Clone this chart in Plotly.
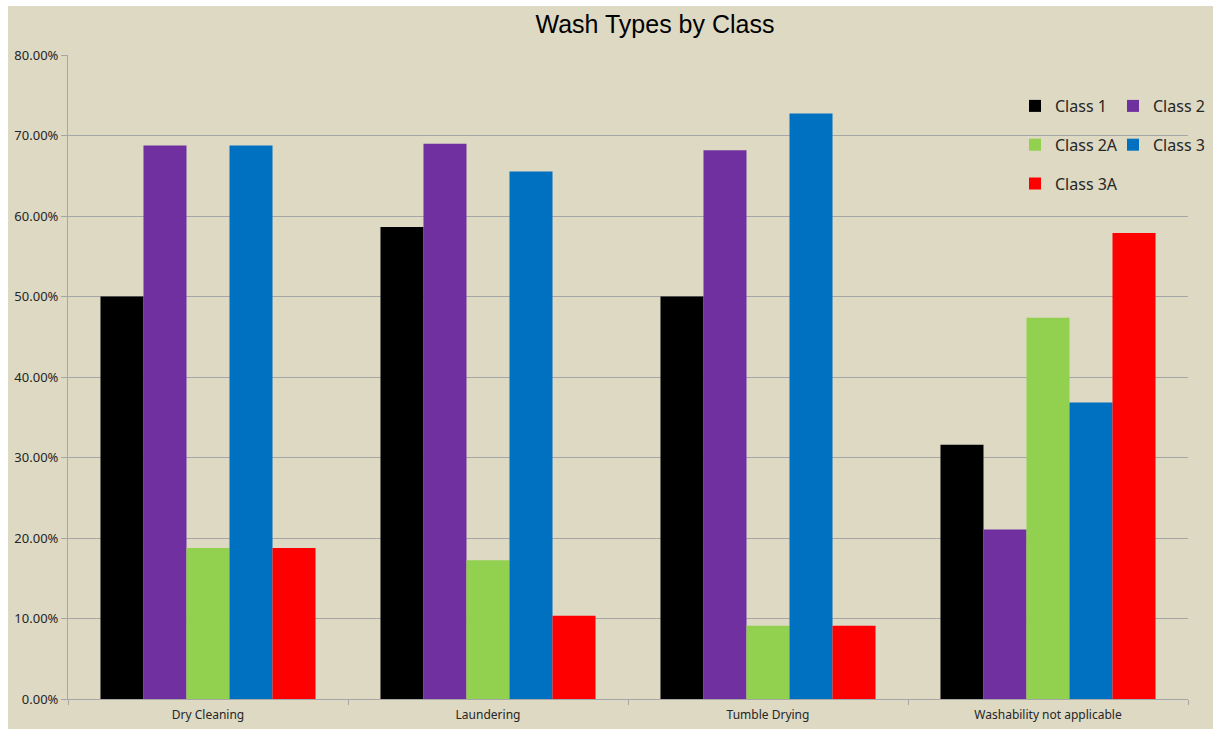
import plotly.graph_objects as go

# Share of items in each wash category, per class
categories = ["Dry Cleaning", "Laundering", "Tumble Drying", "Washability not applicable"]
class_1 = [0.5000, 0.5862, 0.5000, 0.3158]
class_2 = [0.6875, 0.6897, 0.6818, 0.2105]
class_2a = [0.1875, 0.1724, 0.0909, 0.4737]
class_3 = [0.6875, 0.6552, 0.7273, 0.3684]
class_3a = [0.1875, 0.1034, 0.0909, 0.5789]

series = [
    ("Class 1", class_1, "#000000", "legend"),
    ("Class 2", class_2, "#7030A0", "legend2"),
    ("Class 2A", class_2a, "#92D050", "legend"),
    ("Class 3", class_3, "#0070C0", "legend2"),
    ("Class 3A", class_3a, "#FF0000", "legend"),
]

W, H = 1215, 729
ML, MR, MT, MB = 68, 27, 55, 30
PW, PH = W - ML - MR, H - MT - MB

TAN = "#DDD9C3"
GRID = "#A6A6A6"
TEXT = "#262626"
BODY_FONT = "Noto Sans"

fig = go.Figure()
for name, vals, color, leg in series:
    fig.add_trace(go.Bar(
        name=name, x=categories, y=vals,
        marker=dict(color=color, line=dict(width=0)),
        legend=leg, legendgroup=name,
    ))

def px_x(px):
    return (px - ML) / PW

def px_y(py):
    return (H - MB - py) / PH

legend_common = dict(
    orientation="v", xanchor="left", yanchor="top",
    bgcolor="rgba(0,0,0,0)", borderwidth=0,
    font=dict(family=BODY_FONT, size=16, color=TEXT),
    tracegroupgap=15, itemclick=False,
)

fig.update_layout(
    width=W, height=H,
    margin=dict(l=ML, r=MR, t=MT, b=MB, pad=0, autoexpand=False),
    paper_bgcolor="white",
    plot_bgcolor="rgba(0,0,0,0)",
    barmode="group", bargap=0.232, bargroupgap=0,
    title=dict(
        text="Wash Types by Class",
        x=655 / W, xanchor="center", xref="container",
        y=1 - 24 / H, yanchor="middle", yref="container",
        font=dict(family="Liberation Sans", size=25, color="#000000"),
    ),
    legend=dict(x=px_x(1015), y=px_y(89), **legend_common),
    legend2=dict(x=px_x(1113), y=px_y(89), **legend_common),
    xaxis=dict(
        showgrid=False, showline=True, linecolor=GRID, linewidth=1,
        ticks="outside", tickson="boundaries", ticklen=5, tickcolor=GRID,
        tickfont=dict(family=BODY_FONT, size=12, color=TEXT),
        ticklabelstandoff=5,
    ),
    yaxis=dict(
        range=[0, 0.8], dtick=0.1, tickformat=".2%",
        showgrid=True, gridcolor=GRID, gridwidth=1,
        showline=True, linecolor=GRID, linewidth=1,
        ticks="outside", ticklen=6, tickcolor=GRID,
        tickfont=dict(family=BODY_FONT, size=13, color=TEXT),
        zeroline=False,
    ),
    shapes=[dict(
        type="rect", xref="paper", yref="paper", layer="below",
        x0=px_x(8), x1=px_x(1213), y0=px_y(H + 2), y1=px_y(6),
        fillcolor=TAN, line=dict(width=0),
    )],
)

fig.write_html("out.html")
